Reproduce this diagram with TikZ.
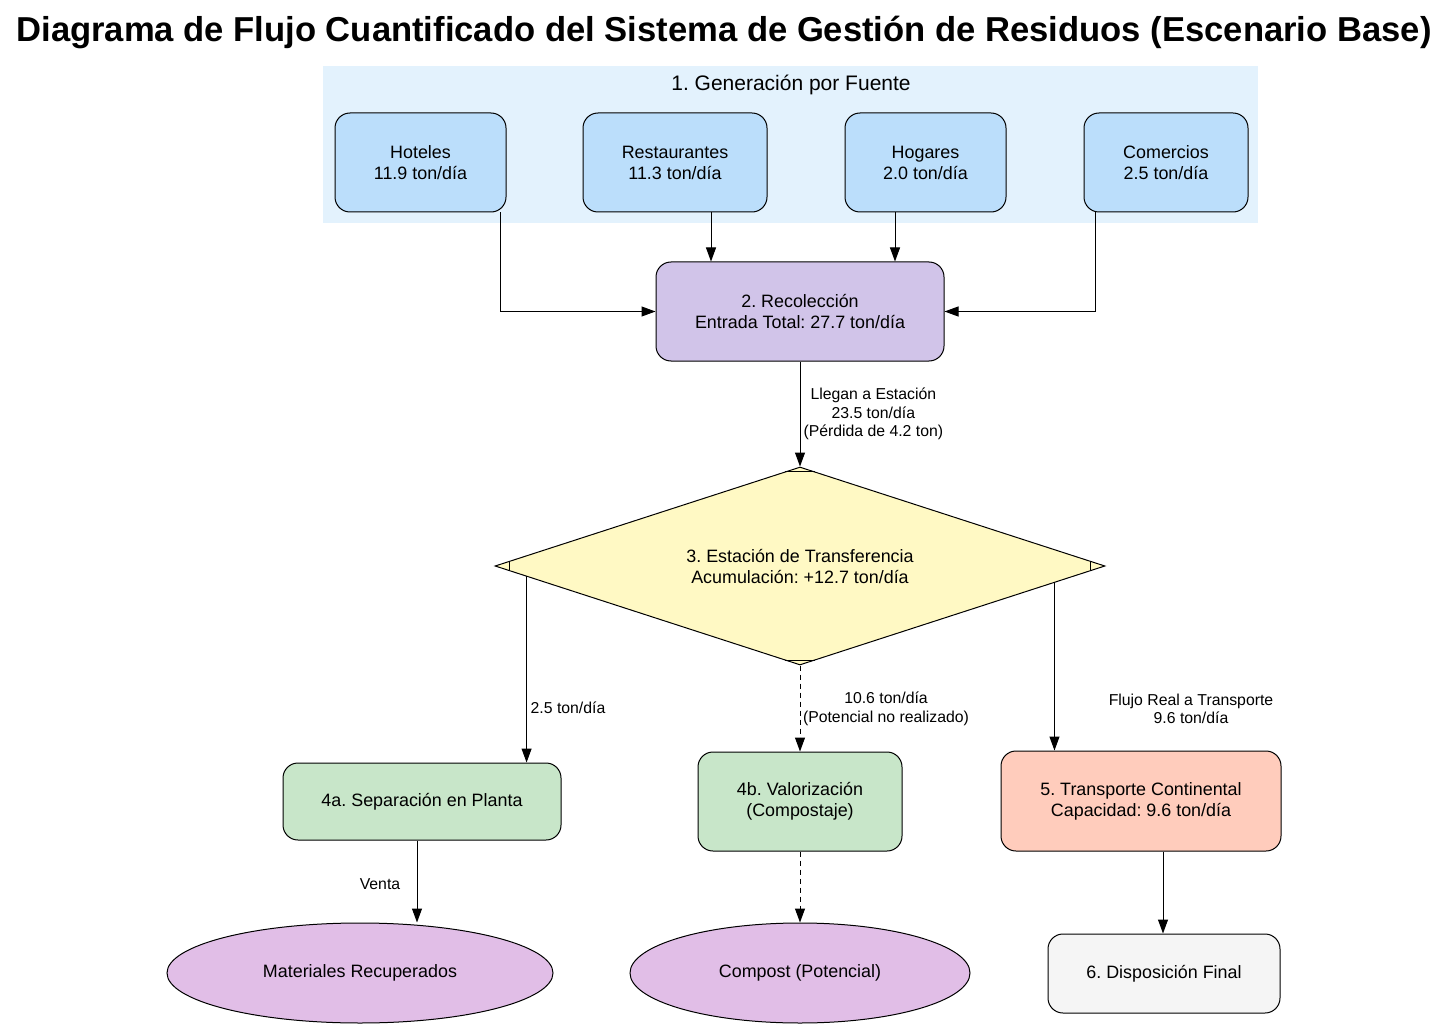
\documentclass[tikz,border=0pt]{standalone}
\usepackage{fontspec}
\setmainfont{Liberation Sans}
\usetikzlibrary{shapes.geometric,arrows.meta,calc}
\begin{document}
\frenchspacing
\begin{tikzpicture}[x=1pt,y=-1pt,
  nfont/.style={font=\fontsize{17.9}{21}\selectfont},
  lfont/.style={font=\fontsize{15.8}{18.5}\selectfont},
  box/.style={draw=black, line width=1pt, rounded corners=15pt, align=center, nfont, inner sep=0pt},
  ell/.style={draw=black, line width=1pt, ellipse, align=center, nfont, inner sep=0pt, fill=purp},
  arr/.style={draw=black, line width=1pt, -{Triangle[length=14pt,width=10pt]}},
  elab/.style={lfont, align=center, inner sep=0pt}
]
\definecolor{clusterbg}{HTML}{E3F2FD}
\definecolor{srcblue}{HTML}{BBDEFB}
\definecolor{recpurp}{HTML}{D1C4E9}
\definecolor{diay}{HTML}{FFF9C4}
\definecolor{grn}{HTML}{C8E6C9}
\definecolor{salmon}{HTML}{FFCCBC}
\definecolor{grayf}{HTML}{F5F5F5}
\definecolor{purp}{HTML}{E1BEE7}
\useasboundingbox (0,0) rectangle (1449,1035);
\fill[white] (0,0) rectangle (1449,1035);

% title
\node[font=\fontsize{34.6}{40}\selectfont\bfseries] (title) at (724,32) {Diagrama de Flujo Cuantificado del Sistema de Gestión de Residuos (Escenario Base)};

% cluster
\fill[clusterbg] (323,66) rectangle (1258,223);
\node[font=\fontsize{21}{24}\selectfont] (clab) at (791,85) {1. Generación por Fuente};

% sources
\node[box, fill=srcblue, minimum width=171, minimum height=99] (hot) at (420.5,162.5) {Hoteles\\11.9 ton/día};
\node[box, fill=srcblue, minimum width=184, minimum height=99] (res) at (675,162.5) {Restaurantes\\11.3 ton/día};
\node[box, fill=srcblue, minimum width=161, minimum height=99] (hog) at (925.5,162.5) {Hogares\\2.0 ton/día};
\node[box, fill=srcblue, minimum width=164, minimum height=99] (com) at (1166,162.5) {Comercios\\2.5 ton/día};

% collection
\node[box, fill=recpurp, minimum width=288, minimum height=99] (rec) at (800,311.5) {2. Recolección\\Entrada Total: 27.7 ton/día};

% transfer station
\node[diamond, aspect=3.08, draw=black, line width=1pt, fill=diay, minimum width=610, minimum height=198, inner sep=0pt, align=center, nfont] (dia) at (800,566) {3. Estación de Transferencia\\Acumulación: +12.7 ton/día};
\draw[line width=1pt] ($(dia.north)!0.05!(dia.west)$) -- ($(dia.north)!0.05!(dia.east)$);
\draw[line width=1pt] ($(dia.south)!0.05!(dia.west)$) -- ($(dia.south)!0.05!(dia.east)$);
\draw[line width=1pt] ($(dia.west)!0.05!(dia.north)$) -- ($(dia.west)!0.05!(dia.south)$);
\draw[line width=1pt] ($(dia.east)!0.05!(dia.north)$) -- ($(dia.east)!0.05!(dia.south)$);

% level 4/5
\node[box, fill=grn, minimum width=278, minimum height=77] (sep) at (422,801.5) {4a. Separación en Planta};
\node[box, fill=grn, minimum width=204, minimum height=99] (val) at (800,801.5) {4b. Valorización\\(Compostaje)};
\node[box, fill=salmon, minimum width=280, minimum height=100] (tra) at (1141,801) {5. Transporte Continental\\Capacidad: 9.6 ton/día};

% outputs
\node[ell, minimum width=386, minimum height=100] (mat) at (360,973) {Materiales Recuperados};
\node[ell, minimum width=340, minimum height=100] (cmp) at (800,973) {Compost (Potencial)};
\node[box, fill=grayf, minimum width=232, minimum height=79] (fin) at (1164,973.5) {6. Disposición Final};

% edges
\draw[arr] ([xshift=79.5]hot.south) |- (rec.west);
\draw[arr] ([xshift=36]res.south) -- ([xshift=-89]rec.north);
\draw[arr] ([xshift=-30.5]hog.south) -- ([xshift=95]rec.north);
\draw[arr] ([xshift=-71]com.south) |- (rec.east);

\draw[arr] (rec.south) -- (dia.north) node[elab, pos=0.5, right=1pt, xshift=2] {Llegan a Estación\\23.5 ton/día\\(Pérdida de 4.2 ton)};

\coordinate (dl) at ($(dia.west)!0.105!(dia.south)$);
\coordinate (dr) at ($(dia.east)!0.167!(dia.south)$);
\draw[arr] (dl) -- (dl |- sep.north);
\node[elab] (l25) at (568,708) {2.5 ton/día};
\draw[arr, dashed, dash pattern=on 5pt off 4pt] (dia.south) -- (val.north);
\node[elab] (l106) at (886,709) {10.6 ton/día\\(Potencial no realizado)};
\draw[arr] (dr) -- (dr |- tra.north);
\node[elab] (lflu) at (1191,709) {Flujo Real a Transporte\\9.6 ton/día};

\draw[arr] ([xshift=-5]sep.south) -- ([xshift=57]mat.north);
\node[elab] (lven) at (380,884) {Venta};
\draw[arr, dashed, dash pattern=on 5pt off 4pt] (val.south) -- (cmp.north);
\draw[arr] ([xshift=22]tra.south) -- ([xshift=-1]fin.north);
\end{tikzpicture}
\end{document}
